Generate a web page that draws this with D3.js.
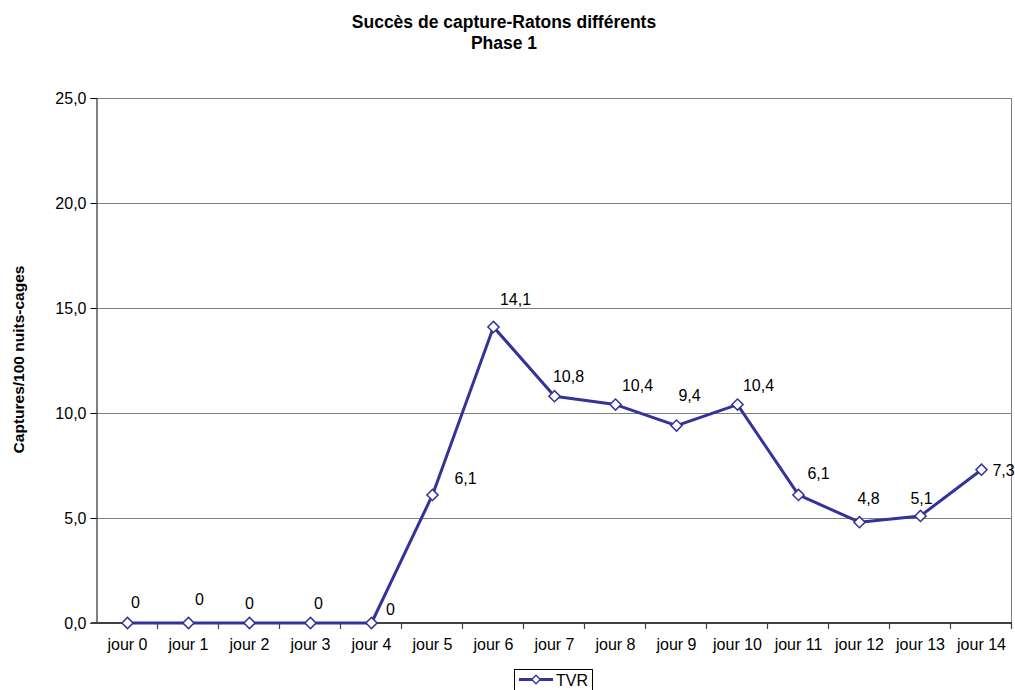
<!DOCTYPE html>
<html>
<head>
<meta charset="utf-8">
<script src="https://cdn.jsdelivr.net/npm/d3@7"></script>
<style>
  html, body { margin: 0; padding: 0; background: #fff; }
  svg { display: block; }
  svg text { font-family: Arial, "Liberation Sans", sans-serif; }
</style>
</head>
<body>
<svg id="chart" width="1015" height="690"></svg>
<script>
// Capture success per day (captures / 100 cage-nights)
const days = ["jour 0","jour 1","jour 2","jour 3","jour 4","jour 5","jour 6","jour 7",
              "jour 8","jour 9","jour 10","jour 11","jour 12","jour 13","jour 14"];
const tvr = [0, 0, 0, 0, 0, 6.1, 14.1, 10.8, 10.4, 9.4, 10.4, 6.1, 4.8, 5.1, 7.3];
const yTicks = [0, 5, 10, 15, 20, 25];
const seriesName = "TVR";

// Hand-placed data label offsets (px): [dx to text centre, dy to baseline]
const labelOffsets = [
  [8, -15], [11, -18], [0, -14], [8, -14], [19, -8], [33, -11], [22, -22],
  [14, -14], [22, -14], [13, -25], [21, -14], [20, -16], [9, -18], [1, -12], [22, 6]
];

const fmt = v => d3.format(".1f")(v).replace(".", ",");
const fmtLabel = v => v === 0 ? "0" : String(v).replace(".", ",");

const svg = d3.select("#chart");
const m = { left: 97, right: 1012, top: 98, bottom: 623 };
const color = "#333399";
const FONT = "Arial, 'Liberation Sans', sans-serif";

const x = d3.scaleBand().domain(days).range([m.left, m.right]);
const y = d3.scaleLinear().domain([0, 25]).range([m.bottom, m.top]);

// Title
const title = svg.append("text").attr("text-anchor", "middle")
  .style("font-weight", "bold").style("font-size", "17.5px");
title.append("tspan").attr("x", 504).attr("y", 28).text("Succès de capture-Ratons différents");
title.append("tspan").attr("x", 504).attr("y", 48.5).text("Phase 1");

// Horizontal gridlines
svg.append("g").selectAll("line").data(yTicks.filter(d => d > 0)).join("line")
  .attr("x1", m.left).attr("x2", m.right)
  .attr("y1", d => y(d) + 0.5).attr("y2", d => y(d) + 0.5)
  .attr("stroke", "#808080").attr("stroke-width", 1);

// Right border of plot area
svg.append("line").attr("x1", m.right - 0.5).attr("x2", m.right - 0.5)
  .attr("y1", m.top).attr("y2", m.bottom).attr("stroke", "#808080");

// Y axis
const yAxis = svg.append("g").attr("transform", `translate(${m.left - 0.5},0)`)
  .call(d3.axisLeft(y).tickValues(yTicks).tickFormat(fmt).tickSize(6).tickPadding(4));
yAxis.attr("font-family", FONT).attr("font-size", 16);
yAxis.select(".domain").attr("stroke", "#000");
yAxis.selectAll(".tick line").attr("stroke", "#000");
yAxis.selectAll("text").attr("fill", "#000");

// X axis with ticks on band boundaries
const xAxisG = svg.append("g").attr("transform", `translate(0,${m.bottom})`);
xAxisG.append("line").attr("x1", m.left - 6).attr("x2", m.right)
  .attr("y1", 0).attr("y2", 0).attr("stroke", "#404040").attr("stroke-width", 2);
const boundaries = days.map(d => x(d)).concat([m.right]);
xAxisG.selectAll("line.tk").data(boundaries.slice(1)).join("line").attr("class", "tk")
  .attr("x1", d => d - 0.5).attr("x2", d => d - 0.5).attr("y1", 0).attr("y2", 6)
  .attr("stroke", "#404040").attr("stroke-width", 1.2);
xAxisG.selectAll("text").data(days).join("text")
  .attr("x", d => x(d) + x.bandwidth() / 2).attr("y", 26.5)
  .attr("text-anchor", "middle").style("font-size", "16px").text(d => d);

// Y axis title
svg.append("text")
  .attr("transform", `translate(24,${(m.top + m.bottom) / 2 - 1}) rotate(-90)`)
  .attr("text-anchor", "middle").style("font-weight", "bold").style("font-size", "15.5px")
  .text("Captures/100 nuits-cages");

// Series line
const cx = d => x(d) + x.bandwidth() / 2;
const line = d3.line().x((d, i) => cx(days[i])).y(d => y(d));
svg.append("path").datum(tvr).attr("d", line)
  .attr("fill", "none").attr("stroke", color).attr("stroke-width", 3)
  .attr("stroke-linejoin", "round");

// Diamond markers
svg.append("g").selectAll("path").data(tvr).join("path")
  .attr("d", d3.symbol().type(d3.symbolSquare).size(62))
  .attr("transform", (d, i) => `translate(${cx(days[i])},${y(d)}) rotate(45)`)
  .attr("fill", "#fff").attr("stroke", color).attr("stroke-width", 1.5);

// Data labels
svg.append("g").selectAll("text").data(tvr).join("text")
  .attr("x", (d, i) => cx(days[i]) + labelOffsets[i][0])
  .attr("y", (d, i) => y(d) + labelOffsets[i][1])
  .attr("text-anchor", "middle").style("font-size", "16px").attr("fill", "#000")
  .text(d => fmtLabel(d));

// Legend
const lg = svg.append("g").attr("transform", "translate(514,669)");
lg.append("rect").attr("x", 0.5).attr("y", 0.5).attr("width", 78).attr("height", 24)
  .attr("fill", "#fff").attr("stroke", "#000");
lg.append("line").attr("x1", 5).attr("x2", 39).attr("y1", 10.5).attr("y2", 10.5)
  .attr("stroke", color).attr("stroke-width", 3);
lg.append("path").attr("transform", "translate(22,10.5) rotate(45)")
  .attr("d", d3.symbol().type(d3.symbolSquare).size(36))
  .attr("fill", "#fff").attr("stroke", color).attr("stroke-width", 1.3);
lg.append("text").attr("x", 42).attr("y", 17).style("font-size", "16px").text(seriesName);
</script>
</body>
</html>
